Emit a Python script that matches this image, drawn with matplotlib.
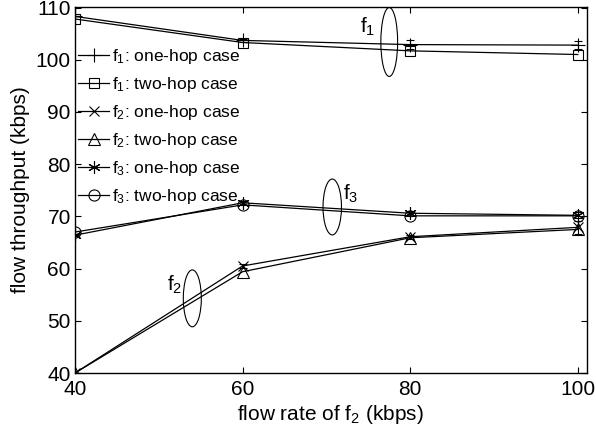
import matplotlib
matplotlib.use("Agg")
import matplotlib.pyplot as plt
from matplotlib.patches import Ellipse

plt.rcParams['font.family'] = ['Liberation Sans', 'DejaVu Sans']
plt.rcParams['mathtext.default'] = 'regular'

rate = [40, 60, 80, 100]
f1_one = [108.3, 103.7, 102.9, 102.8]
f1_two = [107.8, 103.3, 101.7, 101.0]
f2_one = [40.0, 60.5, 66.1, 67.9]
f2_two = [40.0, 59.4, 65.9, 67.5]
f3_one = [66.4, 72.6, 70.6, 70.2]
f3_two = [67.0, 72.2, 70.1, 70.1]
f1_one_err = [0.0, 0.3, 0.8, 0.8]
f2_one_err = [0.0, 0.4, 0.4, 1.2]
f3_one_err = [0.0, 0.4, 0.5, 0.6]

labels = ['f$_1$: one-hop case', 'f$_1$: two-hop case',
          'f$_2$: one-hop case', 'f$_2$: two-hop case',
          'f$_3$: one-hop case', 'f$_3$: two-hop case']

fig = plt.figure(figsize=(5.96, 4.36), dpi=100)
ax = fig.add_axes([75/596, 1-373/436, 512/596, 366/436])

lw = 0.9
kw = dict(color='black', linewidth=lw, markerfacecolor='none', markeredgecolor='black', markeredgewidth=0.8)
series = [
    (f1_one, '+', 10, f1_one_err),
    (f1_two, 's', 7, None),
    (f2_one, 'x', 7, f2_one_err),
    (f2_two, '^', 8, None),
    (f3_one, (6, 2, 0), 9, f3_one_err),
    (f3_two, 'o', 8, None),
]
handles = []
for (vals, m, ms, err), lab in zip(series, labels):
    h, = ax.plot(rate, vals, marker=m, markersize=ms, label=lab, **kw)
    handles.append(h)
    if err is not None:
        ax.errorbar(rate, vals, yerr=err, fmt='none', ecolor='black', elinewidth=0.8, capsize=3, capthick=0.8)

ax.set_xlim(40, 101.1)
ax.set_ylim(40, 110.1)
ax.set_xticks([40, 60, 80, 100])
ax.set_yticks([40, 50, 60, 70, 80, 90, 100, 110])
ax.tick_params(direction='in', length=4, width=0.8, top=True, right=True, labelsize=15, pad=3)
ax.tick_params(axis='x', pad=5)
for s in ax.spines.values():
    s.set_linewidth(1.0)

ax.set_xlabel('flow rate of f$_2$ (kbps)', fontsize=15, labelpad=3)
ax.set_ylabel('flow throughput (kbps)', fontsize=15, labelpad=4)

# annotation ellipses
ell_x = [77.5, 54.0, 70.7]
ell_y = [103.4, 54.3, 71.8]
ell_w = [2.0, 2.15, 2.2]
ell_h = [13.2, 10.9, 10.7]
for ex, ey, ew, eh in zip(ell_x, ell_y, ell_w, ell_h):
    ax.add_patch(Ellipse((ex, ey), width=ew, height=eh, fill=False, edgecolor='black', linewidth=0.8))
ax.text(74.0, 106.3, 'f$_1$', fontsize=15, ha='left', va='center')
ax.text(51.0, 56.8, 'f$_2$', fontsize=15, ha='left', va='center')
ax.text(72.0, 74.3, 'f$_3$', fontsize=15, ha='left', va='center')

leg = ax.legend(handles=handles, loc='upper left', bbox_to_anchor=(3/512, (373-47)/366),
                frameon=False, fontsize=12.5, handlelength=1.8, handletextpad=0.15,
                labelspacing=0.52, borderaxespad=0.0, borderpad=0.0)

fig.savefig('out.png', dpi=100)
